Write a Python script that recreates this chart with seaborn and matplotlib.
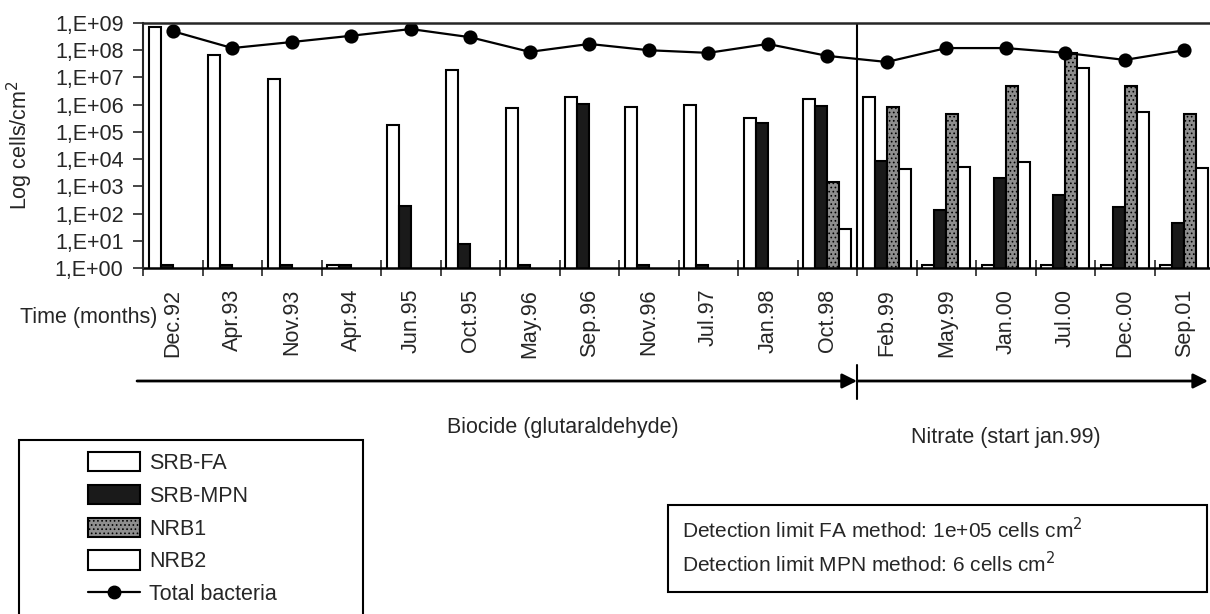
import numpy as np
import pandas as pd
import matplotlib.pyplot as plt
import matplotlib.transforms as mtransforms
import seaborn as sns
from matplotlib.patches import Patch, Rectangle
from matplotlib.lines import Line2D
from matplotlib.ticker import FixedLocator, FuncFormatter, NullFormatter

# sampling dates
months = ["Dec.92", "Apr.93", "Nov.93", "Apr.94", "Jun.95", "Oct.95", "May.96",
          "Sep.96", "Nov.96", "Jul.97", "Jan.98", "Oct.98", "Feb.99", "May.99",
          "Jan.00", "Jul.00", "Dec.00", "Sep.01"]

srb_fa = [7e8, 6.8e7, 9e6, 1.3, 1.8e5, 1.9e7, 7.6e5, 1.9e6, 8.3e5, 9.8e5, 3.2e5, 1.6e6,
          1.9e6, 1.3, 1.3, 1.3, 1.3, 1.3]
srb_mpn = [1.3, 1.3, 1.3, 1.3, 190, 7.6, 1.3, 1.07e6, 1.3, 1.3, 2.1e5, 9e5,
           8.6e3, 135, 2e3, 480, 175, 45]
nrb1 = [np.nan, np.nan, np.nan, np.nan, np.nan, np.nan, np.nan, np.nan, np.nan, np.nan, np.nan, 1.5e3,
        8.3e5, 4.6e5, 4.9e6, 8e7, 4.9e6, 4.6e5]
nrb2 = [np.nan, np.nan, np.nan, np.nan, np.nan, np.nan, np.nan, np.nan, np.nan, np.nan, np.nan, 27,
        4.3e3, 5.2e3, 8e3, 2.2e7, 5.5e5, 4.8e3]
total = [5e8, 1.2e8, 2e8, 3.4e8, 6e8, 3e8, 8.7e7, 1.7e8, 1e8, 8e7, 1.7e8, 6.2e7,
         3.7e7, 1.2e8, 1.2e8, 8e7, 4.4e7, 1e8]

series = ["SRB-FA", "SRB-MPN", "NRB1", "NRB2"]
colors = ["white", "#1a1a1a", "#8e8e8e", "white"]

sns.set_style("white")
plt.rcParams["font.family"] = ["Liberation Sans", "DejaVu Sans"]
plt.rcParams["hatch.linewidth"] = 0.7
FS = 15.5

# long table for seaborn
df = pd.DataFrame({
    "time": months * 4,
    "series": [s for s in series for _ in months],
    "value": srb_fa + srb_mpn + nrb1 + nrb2,
}).dropna()

W, H = 1210, 614
fig = plt.figure(figsize=(W / 100, H / 100), dpi=100)
ax = fig.add_axes([143 / W, 1 - 268 / H, (1214 - 143) / W, (268 - 23) / H])

sns.barplot(data=df, x="time", y="value", hue="series", order=months, hue_order=series,
            palette=colors, saturation=1, edgecolor="black", linewidth=1.5,
            errorbar=None, legend=False, ax=ax)
for bar in ax.containers[2]:
    bar.set_hatch("....")

sns.pointplot(x=months, y=total, order=months, color="black", markers="o",
              markersize=9, linewidth=1.6, ax=ax)

ax.set_yscale("log")
ax.set_ylim(1, 1e9)
ax.set_xlim(-0.5, 17.5)

# boundary between the two treatments
ax.axvline(11.5, color="black", lw=1.5)

for side in ["right", "bottom"]:
    ax.spines[side].set_visible(False)
ax.axhline(1, color="black", lw=1.8, clip_on=False)
ax.spines["top"].set_linewidth(1.8)
ax.spines["left"].set_linewidth(1.5)

ax.yaxis.set_major_locator(FixedLocator([10.0 ** k for k in range(10)]))
ax.yaxis.set_major_formatter(FuncFormatter(lambda v, p: "1,E+%02d" % int(round(np.log10(v)))))
ax.yaxis.set_minor_formatter(NullFormatter())
ax.tick_params(axis="y", which="minor", length=0)
ax.tick_params(axis="y", which="major", length=7, width=1.2, pad=7, labelsize=FS, left=True)

ax.set_xticks(range(len(months)))
ax.set_xticklabels(months, rotation=90, fontsize=FS)
ax.set_xticks(np.arange(-0.5, 18, 1), minor=True)
ax.tick_params(axis="x", which="major", length=0, pad=15, bottom=True)
ax.tick_params(axis="x", which="minor", length=12, width=1.2, direction="inout", bottom=True)
ax.set_xlabel("")
ax.set_ylabel("Log cells/cm$^2$", fontsize=FS)
ax.yaxis.set_label_coords(-0.101, 0.5)

fig.text(157 / W, 1 - 317 / H, "Time (months)", ha="right", va="center", fontsize=FS)

# treatment arrows under the time axis
mix = mtransforms.blended_transform_factory(ax.transData, fig.transFigure)
ya = 1 - 381 / H
arr = dict(arrowstyle="-|>", mutation_scale=22, lw=2, color="black", shrinkA=0, shrinkB=0)
ax.annotate("", xy=(11.5, ya), xytext=(-0.6, ya), xycoords=mix, textcoords=mix,
            arrowprops=arr, annotation_clip=False)
ax.annotate("", xy=(17.4, ya), xytext=(11.5, ya), xycoords=mix, textcoords=mix,
            arrowprops=arr, annotation_clip=False)
ax.annotate("", xy=(11.5, 1 - 365 / H), xytext=(11.5, 1 - 399 / H), xycoords=mix, textcoords=mix,
            arrowprops=dict(arrowstyle="-", lw=1.5, color="black", shrinkA=0, shrinkB=0),
            annotation_clip=False)
ax.text(6.56, 1 - 427 / H, "Biocide (glutaraldehyde)", transform=mix,
        ha="center", va="center", fontsize=FS)
ax.text(14.0, 1 - 438 / H, "Nitrate (start jan.99)", transform=mix,
        ha="center", va="center", fontsize=FS)

# legend box
fig.patches.append(Rectangle((19 / W, -0.05), (363 - 19) / W, 1 - 440 / H + 0.05,
                             transform=fig.transFigure, fill=False, edgecolor="black", lw=1.5))
handles = [Patch(facecolor=c, edgecolor="black", lw=1.5, label=s) for s, c in zip(series, colors)]
handles[2].set_hatch("....")
handles.append(Line2D([0], [0], color="black", marker="o", markersize=9, lw=1.6, label="Total bacteria"))
fig.legend(handles=handles, loc="upper left", bbox_to_anchor=(88 / W, 1 - 452 / H),
           frameon=False, fontsize=FS, handlelength=2.4, handleheight=1.0,
           handletextpad=0.45, labelspacing=0.5, borderpad=0, borderaxespad=0)

# detection limit box
fig.patches.append(Rectangle((668 / W, 1 - 592 / H), (1207 - 668) / W, (592 - 505) / H,
                             transform=fig.transFigure, fill=False, edgecolor="black", lw=1.5))
fig.text(682 / W, 1 - 530 / H, "Detection limit FA method: 1e+05 cells cm$^2$", va="center", fontsize=15)
fig.text(682 / W, 1 - 564 / H, "Detection limit MPN method: 6 cells cm$^2$", va="center", fontsize=15)

fig.savefig("out.png", dpi=100)
